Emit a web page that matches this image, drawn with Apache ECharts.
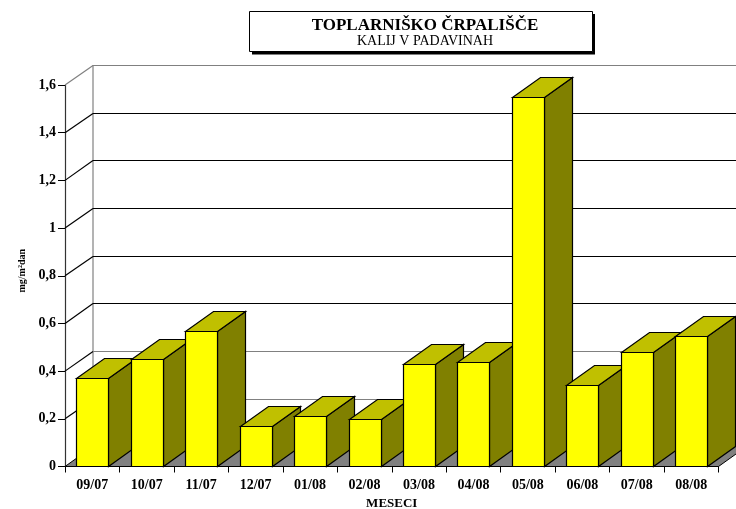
<!DOCTYPE html>
<html>
<head>
<meta charset="utf-8">
<style>html,body{margin:0;padding:0;background:#fff}#c{width:736px;height:509px}</style>
<script src="https://cdn.jsdelivr.net/npm/echarts@6/dist/echarts.min.js"></script>
</head>
<body>
<div id="c"></div>
<script>
var months = ['09/07','10/07','11/07','12/07','01/08','02/08','03/08','04/08','05/08','06/08','07/08','08/08'];
var kalij = [0.37,0.45,0.568,0.171,0.21,0.2,0.43,0.44,1.55,0.34,0.48,0.547];
var yTicks = [0,0.2,0.4,0.6,0.8,1,1.2,1.4,1.6];
var titleMain = 'TOPLARNIŠKO ČRPALIŠČE';
var titleSub = 'KALIJ V PADAVINAH';
var xName = 'MESECI';
var yName = 'mg/m²dan';

var DX = 28, DY = 20, BAR_W = 32;
var SERIF = '"Liberation Serif","Times New Roman",serif';

function line(pts, color, width) {
  return {type:'polyline', shape:{points:pts}, style:{fill:null, stroke:color, lineWidth:width||1}, silent:true};
}

var chart = echarts.init(document.getElementById('c'), null, {renderer:'canvas'});
chart.setOption({
  animation:false,
  backgroundColor:'#fff',
  title:{
    text:titleMain, subtext:titleSub, left:425, top:17, textAlign:'center', itemGap:0, padding:0,
    textStyle:{fontFamily:SERIF, fontSize:17, fontWeight:'bold', color:'#000', lineHeight:17},
    subtextStyle:{fontFamily:SERIF, fontSize:14, color:'#000', lineHeight:14}
  },
  graphic:[
    {type:'rect', z:-2, shape:{x:252,y:14,width:343,height:40.5}, style:{fill:'#000'}, silent:true},
    {type:'rect', z:-1, shape:{x:249.5,y:11.5,width:343,height:40}, style:{fill:'#fff',stroke:'#000',lineWidth:1}, silent:true}
  ],
  grid:{left:65, right:17.5, top:85, bottom:42.5, outerBoundsMode:'none'},
  xAxis:{
    type:'category', data:months, name:xName, nameLocation:'middle', nameGap:30,
    nameTextStyle:{fontFamily:SERIF, fontSize:13, fontWeight:'bold', color:'#000'},
    axisLine:{show:true, lineStyle:{color:'#000', width:1.2}},
    axisTick:{show:true, length:6, alignWithLabel:false, lineStyle:{color:'#000'}},
    axisLabel:{fontFamily:SERIF, fontSize:14, fontWeight:'bold', color:'#000', margin:12, interval:0},
    splitLine:{show:false}
  },
  yAxis:{
    type:'value', min:0, max:1.6, interval:0.2, name:yName, nameLocation:'middle', nameGap:38, nameRotate:90,
    nameTextStyle:{fontFamily:SERIF, fontSize:10, fontWeight:'bold', color:'#000', padding:[0,0,0,10]},
    axisLine:{show:true, lineStyle:{color:'#333', width:1.2}},
    axisTick:{show:true, length:7, lineStyle:{color:'#000'}},
    axisLabel:{fontFamily:SERIF, fontSize:14, fontWeight:'bold', color:'#000', margin:9,
      formatter:function(v){return String(v).replace('.',',');}},
    splitLine:{show:false}
  },
  series:[
    {
      type:'custom', coordinateSystem:'cartesian2d', clip:false, silent:true,
      encode:{x:0,y:1},
      data:[[0,0]],
      renderItem:function(params, api){
        var cs = params.coordSys, x0 = cs.x, x1 = cs.x+cs.width, p = api.coord([0,0]), y = p[1];
        return {type:'group', children:[
          {type:'polygon', shape:{points:[[x0,y],[x0+DX,y-DY],[x1+DX,y-DY],[x1,y]]},
            style:{fill:'#808080', stroke:'#000', lineWidth:1}, silent:true},
          line([[x0+DX,cs.y-DY],[x0+DX,y-DY]], '#808080', 1.2)
        ]};
      }
    },
    {
      type:'custom', coordinateSystem:'cartesian2d', clip:false, silent:true,
      encode:{x:0,y:1},
      data:yTicks.slice(1).map(function(v){return [0,v];}),
      renderItem:function(params, api){
        var cs = params.coordSys, x0 = cs.x, x1 = cs.x+cs.width, v = api.value(1);
        var y = api.coord([0,v])[1];
        var c = (v > 1.5 || v < 0.5) ? '#808080' : '#000';
        var yb = Math.round(y-DY)+0.5;
        return {type:'group', children:[
          line([[x0,y],[x0+DX,yb]], v > 1.5 ? '#808080' : '#000', 1.2),
          line([[x0+DX,yb],[x1+DX,yb]], c, 1.2)
        ]};
      }
    },
    {
      type:'custom', coordinateSystem:'cartesian2d', clip:false, silent:true,
      encode:{x:0,y:1},
      data:kalij.map(function(v,i){return [i,v];}),
      renderItem:function(params, api){
        var i = api.value(0), v = api.value(1);
        var top = api.coord([i,v]), base = api.coord([i,0]);
        var xl = Math.round(top[0]-BAR_W/2)+0.5, xr = xl+BAR_W, yt = Math.round(top[1])+0.5, yb = base[1];
        var edge = {stroke:'#000', lineWidth:1.2, lineJoin:'miter'};
        function face(pts, fill){
          return {type:'polygon', shape:{points:pts}, style:Object.assign({fill:fill}, edge), silent:true};
        }
        return {type:'group', children:[
          face([[xr,yt],[xr+DX,yt-DY],[xr+DX,yb-DY],[xr,yb]], '#808000'),
          face([[xl,yt],[xl+DX,yt-DY],[xr+DX,yt-DY],[xr,yt]], '#c0c000'),
          face([[xl,yt],[xr,yt],[xr,yb],[xl,yb]], '#ffff00')
        ]};
      }
    }
  ]
});
</script>
</body>
</html>
